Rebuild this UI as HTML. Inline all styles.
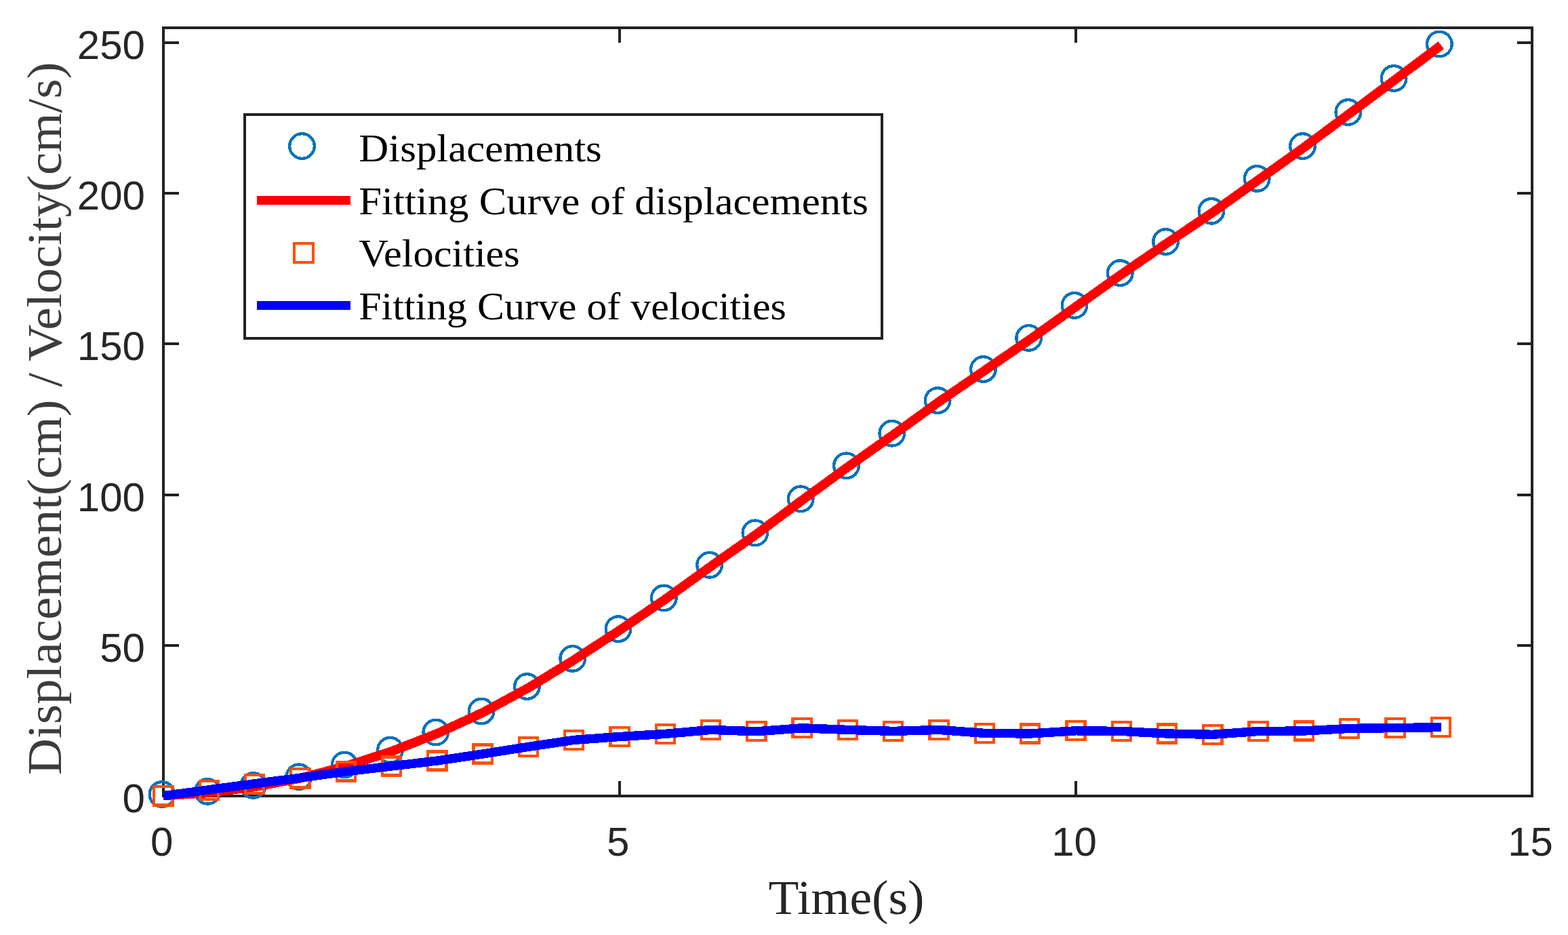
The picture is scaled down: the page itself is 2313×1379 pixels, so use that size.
<!DOCTYPE html>
<html lang="en"><head><meta charset="utf-8"><title>Displacement and velocity fitting curves</title>
<style>html,body{margin:0;padding:0;background:#fff;}body{width:2313px;height:1379px;overflow:hidden;}svg{display:block;}.tick{font-family:"Liberation Sans",sans-serif;font-size:60px;fill:#262626;}.lab{font-family:"Liberation Serif",serif;font-size:71.5px;fill:#262626;}.leg{font-family:"Liberation Serif",serif;font-size:57.5px;fill:#000;}</style></head><body>
<svg width="2313" height="1379" viewBox="0 0 2313 1379">
<rect x="0" y="0" width="2313" height="1379" fill="#ffffff"/>
<g id="axes" fill="none" stroke="#222222" stroke-width="4" stroke-linecap="butt" shape-rendering="crispEdges">
<rect x="241" y="41" width="2019" height="1133"/>
<line x1="914" y1="1174" x2="914" y2="1152"/>
<line x1="914" y1="41" x2="914" y2="63"/>
<line x1="1587" y1="1174" x2="1587" y2="1152"/>
<line x1="1587" y1="41" x2="1587" y2="63"/>
<line x1="241" y1="952" x2="264" y2="952"/>
<line x1="2260" y1="952" x2="2238" y2="952"/>
<line x1="241" y1="730" x2="264" y2="730"/>
<line x1="2260" y1="730" x2="2238" y2="730"/>
<line x1="241" y1="507" x2="264" y2="507"/>
<line x1="2260" y1="507" x2="2238" y2="507"/>
<line x1="241" y1="285" x2="264" y2="285"/>
<line x1="2260" y1="285" x2="2238" y2="285"/>
<line x1="241" y1="63" x2="264" y2="63"/>
<line x1="2260" y1="63" x2="2238" y2="63"/>
</g>
<g id="xticks" class="tick" text-anchor="middle">
<text x="238.6" y="1261.8">0</text>
<text x="911.6" y="1261.8">5</text>
<text x="1584.6" y="1261.8">10</text>
<text x="2257.6" y="1261.8">15</text>
</g>
<g id="yticks" class="tick" text-anchor="end">
<text x="213.9" y="1198.0">0</text>
<text x="213.9" y="975.8">50</text>
<text x="213.9" y="753.6">100</text>
<text x="213.9" y="531.4">150</text>
<text x="213.9" y="309.2">200</text>
<text x="213.9" y="87.0">250</text>
</g>
<text class="lab" x="1133.6" y="1347.8" textLength="230" lengthAdjust="spacingAndGlyphs">Time(s)</text>
<text class="lab" style="fill:#3c3c3c" transform="translate(89.6,1143) rotate(-90)" textLength="1051.5" lengthAdjust="spacingAndGlyphs">Displacement(cm) / Velocity(cm/s)</text>
<g id="displacements" fill="none" stroke="#0072BD" stroke-width="4.3" shape-rendering="crispEdges">
<circle cx="239.0" cy="1171.5" r="18.3"/>
<circle cx="306.3" cy="1167.3" r="18.3"/>
<circle cx="373.6" cy="1158.4" r="18.3"/>
<circle cx="440.9" cy="1145.8" r="18.3"/>
<circle cx="508.2" cy="1128.0" r="18.3"/>
<circle cx="575.5" cy="1106.2" r="18.3"/>
<circle cx="642.8" cy="1080.0" r="18.3"/>
<circle cx="710.1" cy="1049.0" r="18.3"/>
<circle cx="777.4" cy="1012.5" r="18.3"/>
<circle cx="844.7" cy="971.4" r="18.3"/>
<circle cx="912.0" cy="927.6" r="18.3"/>
<circle cx="979.3" cy="881.9" r="18.3"/>
<circle cx="1046.6" cy="833.3" r="18.3"/>
<circle cx="1113.9" cy="785.9" r="18.3"/>
<circle cx="1181.2" cy="735.8" r="18.3"/>
<circle cx="1248.5" cy="686.8" r="18.3"/>
<circle cx="1315.8" cy="639.2" r="18.3"/>
<circle cx="1383.1" cy="590.6" r="18.3"/>
<circle cx="1450.4" cy="544.5" r="18.3"/>
<circle cx="1517.7" cy="498.4" r="18.3"/>
<circle cx="1585.0" cy="450.4" r="18.3"/>
<circle cx="1652.3" cy="402.6" r="18.3"/>
<circle cx="1719.6" cy="356.5" r="18.3"/>
<circle cx="1786.9" cy="311.3" r="18.3"/>
<circle cx="1854.2" cy="263.4" r="18.3"/>
<circle cx="1921.5" cy="215.5" r="18.3"/>
<circle cx="1988.8" cy="165.5" r="18.3"/>
<circle cx="2056.1" cy="115.5" r="18.3"/>
<circle cx="2123.4" cy="65.0" r="18.3"/>
</g>
<polyline id="fit-displacements" points="241.0,1173.5 308.3,1169.3 375.6,1160.4 442.9,1147.8 510.2,1130.0 577.5,1108.2 644.8,1082.0 712.1,1051.0 779.4,1014.5 846.7,973.4 914.0,929.6 981.3,883.9 1048.6,835.3 1115.9,787.9 1183.2,737.8 1250.5,688.8 1317.8,641.2 1385.1,592.6 1452.4,546.5 1519.7,500.4 1587.0,452.4 1654.3,404.6 1721.6,358.5 1788.9,313.3 1856.2,265.4 1923.5,217.5 1990.8,167.5 2058.1,117.5 2125.9,66.7" fill="none" stroke="#FF0000" stroke-width="13.7" stroke-linejoin="round" stroke-linecap="butt" shape-rendering="crispEdges"/>
<g id="velocities" fill="none" stroke="#FF5007" stroke-width="4.2" shape-rendering="crispEdges">
<rect x="227.4" y="1160.3" width="27.2" height="27.2"/>
<rect x="294.7" y="1151.9" width="27.2" height="27.2"/>
<rect x="362.0" y="1142.9" width="27.2" height="27.2"/>
<rect x="429.3" y="1134.3" width="27.2" height="27.2"/>
<rect x="496.6" y="1124.3" width="27.2" height="27.2"/>
<rect x="563.9" y="1116.4" width="27.2" height="27.2"/>
<rect x="631.2" y="1108.4" width="27.2" height="27.2"/>
<rect x="698.5" y="1098.4" width="27.2" height="27.2"/>
<rect x="765.8" y="1087.8" width="27.2" height="27.2"/>
<rect x="833.1" y="1077.8" width="27.2" height="27.2"/>
<rect x="900.4" y="1072.9" width="27.2" height="27.2"/>
<rect x="967.7" y="1068.8" width="27.2" height="27.2"/>
<rect x="1035.0" y="1062.8" width="27.2" height="27.2"/>
<rect x="1102.3" y="1065.2" width="27.2" height="27.2"/>
<rect x="1169.6" y="1060.2" width="27.2" height="27.2"/>
<rect x="1236.9" y="1062.8" width="27.2" height="27.2"/>
<rect x="1304.2" y="1064.8" width="27.2" height="27.2"/>
<rect x="1371.5" y="1062.8" width="27.2" height="27.2"/>
<rect x="1438.8" y="1067.8" width="27.2" height="27.2"/>
<rect x="1506.1" y="1068.4" width="27.2" height="27.2"/>
<rect x="1573.4" y="1064.2" width="27.2" height="27.2"/>
<rect x="1640.7" y="1064.8" width="27.2" height="27.2"/>
<rect x="1708.0" y="1068.4" width="27.2" height="27.2"/>
<rect x="1775.3" y="1069.7" width="27.2" height="27.2"/>
<rect x="1842.6" y="1064.9" width="27.2" height="27.2"/>
<rect x="1909.9" y="1064.4" width="27.2" height="27.2"/>
<rect x="1977.2" y="1060.8" width="27.2" height="27.2"/>
<rect x="2044.5" y="1060.0" width="27.2" height="27.2"/>
<rect x="2111.8" y="1059.0" width="27.2" height="27.2"/>
</g>
<polyline id="fit-velocities" points="241.0,1173.9 308.3,1164.8 375.6,1155.8 442.9,1147.2 510.2,1137.9 577.5,1130.0 644.8,1122.0 712.1,1112.0 779.4,1101.4 846.7,1091.4 914.0,1086.5 981.3,1082.4 1048.6,1076.4 1115.9,1078.8 1183.2,1073.8 1250.5,1076.4 1317.8,1078.4 1385.1,1076.4 1452.4,1081.4 1519.7,1082.0 1587.0,1077.8 1654.3,1078.4 1721.6,1082.0 1788.9,1083.3 1856.2,1078.5 1923.5,1078.0 1990.8,1074.4 2058.1,1073.6 2126.1,1072.6" fill="none" stroke="#0000FF" stroke-width="13.4" stroke-linejoin="round" stroke-linecap="butt" shape-rendering="crispEdges"/>
<g id="legend">
<rect x="361" y="169" width="940" height="330" fill="#ffffff" stroke="#222222" stroke-width="4" shape-rendering="crispEdges"/>
<circle cx="445.5" cy="215.5" r="18.3" fill="none" stroke="#0072BD" stroke-width="4.3" shape-rendering="crispEdges"/>
<line x1="379" y1="295.4" x2="517" y2="295.4" stroke="#FF0000" stroke-width="13.4" shape-rendering="crispEdges"/>
<rect x="434" y="359" width="28" height="28" fill="none" stroke="#FF5007" stroke-width="4" shape-rendering="crispEdges"/>
<line x1="379" y1="450.2" x2="517" y2="450.2" stroke="#0000FF" stroke-width="13.4" shape-rendering="crispEdges"/>
<text class="leg" x="529.3" y="238" textLength="358.5" lengthAdjust="spacingAndGlyphs">Displacements</text>
<text class="leg" x="529.3" y="316" textLength="751.5" lengthAdjust="spacingAndGlyphs">Fitting Curve of displacements</text>
<text class="leg" x="529.3" y="393" textLength="237.5" lengthAdjust="spacingAndGlyphs">Velocities</text>
<text class="leg" x="529.3" y="470.5" textLength="630.5" lengthAdjust="spacingAndGlyphs">Fitting Curve of velocities</text>
</g>
</svg></body></html>
